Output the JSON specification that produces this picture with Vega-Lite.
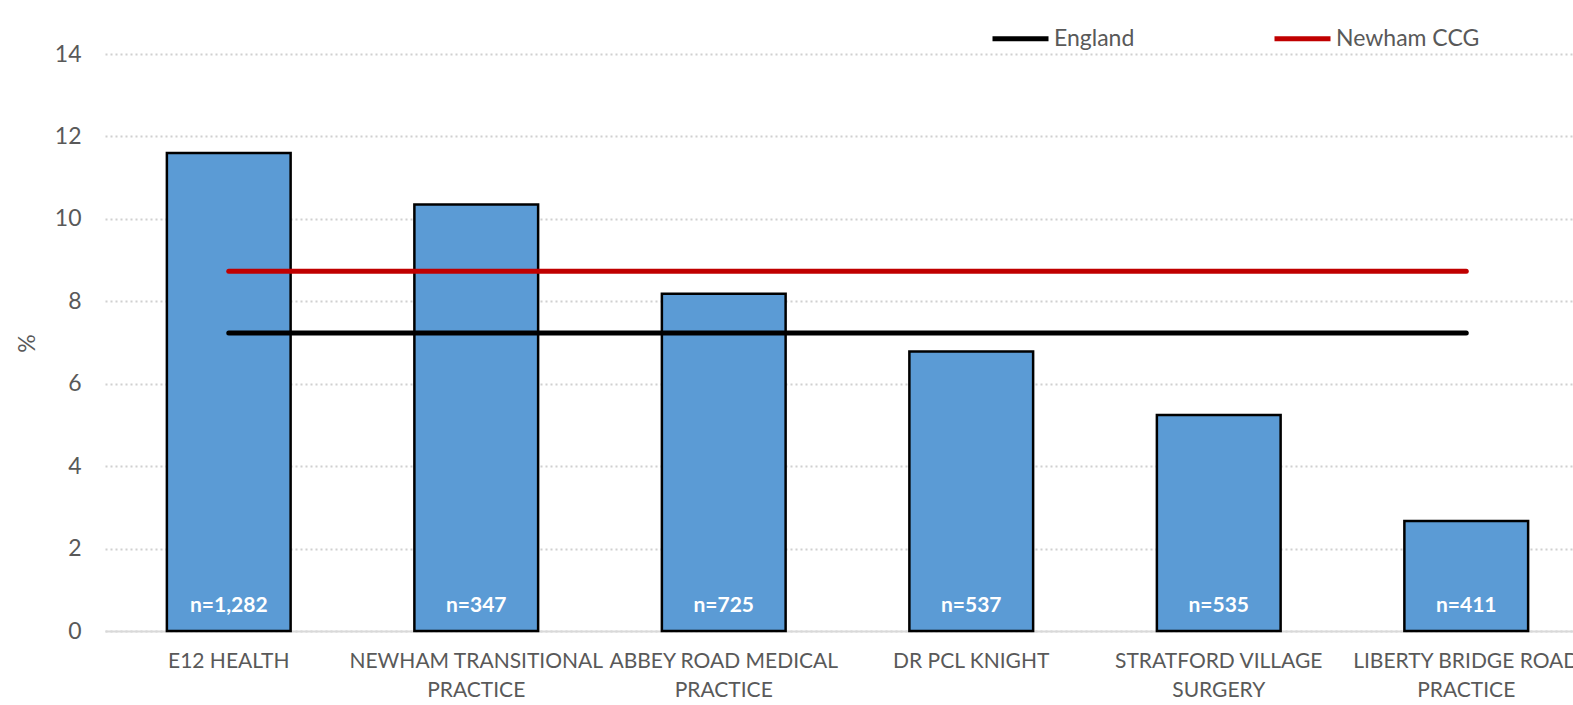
{
  "$schema": "https://vega.github.io/schema/vega-lite/v6.json",
  "width": 1485,
  "height": 577,
  "autosize": "none",
  "padding": {"left": 105, "top": 54, "right": 0, "bottom": 74},
  "background": "white",
  "config": {"view": {"stroke": null}, "font": "Lato"},
  "datasets": {
    "bars": [
      {"practice": "E12 HEALTH", "pct": 11.6, "n": "n=1,282"},
      {"practice": "NEWHAM TRANSITIONAL|PRACTICE", "pct": 10.35, "n": "n=347"},
      {"practice": "ABBEY ROAD MEDICAL|PRACTICE", "pct": 8.18, "n": "n=725"},
      {"practice": "DR PCL KNIGHT", "pct": 6.78, "n": "n=537"},
      {"practice": "STRATFORD VILLAGE|SURGERY", "pct": 5.24, "n": "n=535"},
      {"practice": "LIBERTY BRIDGE ROAD|PRACTICE", "pct": 2.67, "n": "n=411"}
    ],
    "lines": [
      {"practice": "E12 HEALTH", "series": "England", "pct": 7.23},
      {"practice": "NEWHAM TRANSITIONAL|PRACTICE", "series": "England", "pct": 7.23},
      {"practice": "ABBEY ROAD MEDICAL|PRACTICE", "series": "England", "pct": 7.23},
      {"practice": "DR PCL KNIGHT", "series": "England", "pct": 7.23},
      {"practice": "STRATFORD VILLAGE|SURGERY", "series": "England", "pct": 7.23},
      {"practice": "LIBERTY BRIDGE ROAD|PRACTICE", "series": "England", "pct": 7.23},
      {"practice": "E12 HEALTH", "series": "Newham CCG", "pct": 8.73},
      {"practice": "NEWHAM TRANSITIONAL|PRACTICE", "series": "Newham CCG", "pct": 8.73},
      {"practice": "ABBEY ROAD MEDICAL|PRACTICE", "series": "Newham CCG", "pct": 8.73},
      {"practice": "DR PCL KNIGHT", "series": "Newham CCG", "pct": 8.73},
      {"practice": "STRATFORD VILLAGE|SURGERY", "series": "Newham CCG", "pct": 8.73},
      {"practice": "LIBERTY BRIDGE ROAD|PRACTICE", "series": "Newham CCG", "pct": 8.73}
    ]
  },
  "encoding": {
    "x": {
      "field": "practice",
      "type": "nominal",
      "sort": null,
      "scale": {"paddingInner": 0.5, "paddingOuter": 0.25},
      "axis": {
        "title": null,
        "labelAngle": 0,
        "ticks": false,
        "domainColor": "#D9D9D9",
        "domainWidth": 2,
        "labelFontSize": 21,
        "labelColor": "#595959",
        "labelPadding": 19,
        "labelLineHeight": 29,
        "labelLimit": 400,
        "labelOverlap": false,
        "labelExpr": "split(datum.label, '|')"
      }
    }
  },
  "layer": [
    {
      "data": {"name": "bars"},
      "mark": {"type": "bar", "color": "#5B9BD5", "stroke": "#000000", "strokeWidth": 2.5},
      "encoding": {
        "y": {
          "field": "pct",
          "type": "quantitative",
          "scale": {"domain": [0, 14], "nice": false},
          "axis": {
            "title": "%",
            "values": [0, 2, 4, 6, 8, 10, 12, 14],
            "grid": true,
            "gridDash": [2, 3],
            "gridColor": "#D0D0D0",
            "gridWidth": 2,
            "domain": false,
            "ticks": false,
            "labelFontSize": 23,
            "labelColor": "#595959",
            "labelPadding": 24,
            "titleFontSize": 23,
            "titleColor": "#595959",
            "titleFontWeight": "normal",
            "titleX": -78,
            "titleY": 289,
            "titleAlign": "center",
            "titleBaseline": "middle"
          }
        }
      }
    },
    {
      "data": {"name": "bars"},
      "mark": {"type": "text", "color": "white", "fontWeight": "bold", "fontSize": 21, "baseline": "middle", "dy": -25},
      "encoding": {
        "y": {"datum": 0, "type": "quantitative"},
        "text": {"field": "n", "type": "nominal"}
      }
    },
    {
      "data": {"name": "lines"},
      "mark": {"type": "line", "strokeWidth": 5, "strokeCap": "round"},
      "encoding": {
        "y": {"field": "pct", "type": "quantitative"},
        "color": {
          "field": "series",
          "type": "nominal",
          "scale": {"domain": ["England", "Newham CCG"], "range": ["#000000", "#C00000"]},
          "legend": {
            "title": null,
            "orient": "none",
            "legendX": 885,
            "legendY": -46,
            "direction": "horizontal",
            "symbolType": "stroke",
            "symbolSize": 3136,
            "symbolStrokeWidth": 5,
            "labelFontSize": 23,
            "labelColor": "#595959",
            "labelOffset": 3,
            "columnPadding": 129
          }
        }
      }
    }
  ]
}
